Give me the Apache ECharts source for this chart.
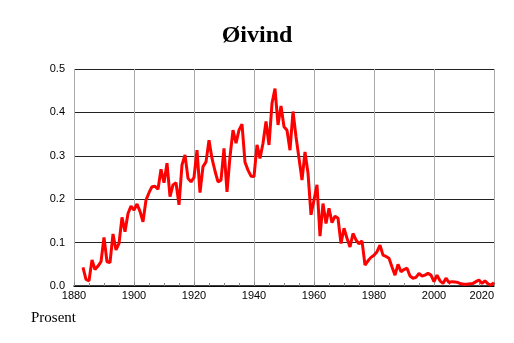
<!DOCTYPE html>
<html>
<head>
<meta charset="utf-8">
<script src="https://cdn.jsdelivr.net/npm/echarts@6/dist/echarts.min.js"></script>
<style>
  html, body { margin: 0; padding: 0; background: #fff; }
  #chart { width: 514px; height: 343px; }
</style>
</head>
<body>
<div id="chart"></div>
<script>
// andel (prosent) per år, fra 1883
const firstYear = 1883
const shares = [
  0.043, 0.015, 0.012, 0.060, 0.038, 0.046, 0.056, 0.112, 0.056, 0.054,
  0.120, 0.083, 0.098, 0.158, 0.125, 0.167, 0.184, 0.175, 0.189, 0.172,
  0.148, 0.198, 0.215, 0.229, 0.230, 0.223, 0.269, 0.238, 0.283, 0.206,
  0.233, 0.238, 0.187, 0.279, 0.302, 0.248, 0.240, 0.250, 0.313, 0.215,
  0.275, 0.286, 0.336, 0.294, 0.265, 0.240, 0.244, 0.317, 0.217, 0.298,
  0.359, 0.329, 0.359, 0.373, 0.285, 0.267, 0.253, 0.252, 0.325, 0.294,
  0.329, 0.379, 0.325, 0.421, 0.455, 0.371, 0.415, 0.367, 0.359, 0.313,
  0.402, 0.344, 0.294, 0.244, 0.309, 0.260, 0.164, 0.198, 0.233, 0.115,
  0.190, 0.144, 0.179, 0.146, 0.161, 0.156, 0.098, 0.133, 0.110, 0.090,
  0.121, 0.106, 0.097, 0.104, 0.048, 0.058, 0.066, 0.071, 0.079, 0.094,
  0.071, 0.068, 0.064, 0.044, 0.025, 0.050, 0.033, 0.038, 0.041, 0.023,
  0.018, 0.020, 0.029, 0.023, 0.025, 0.029, 0.025, 0.010, 0.025, 0.012,
  0.006, 0.018, 0.008, 0.010, 0.009, 0.008, 0.005, 0.004, 0.004, 0.005,
  0.006, 0.010, 0.014, 0.006, 0.012, 0.005, 0.002, 0.008
]
const years = shares.map((_, i) => firstYear + i)
const xTicks = [1880, 1900, 1920, 1940, 1960, 1980, 2000, 2020]
const yTicks = [0.0, 0.1, 0.2, 0.3, 0.4, 0.5]

const myChart = echarts.init(document.getElementById('chart'))

let option = {
  animation: false,
  backgroundColor: '#fff',
  title: {
    text: 'Øivind',
    left: 'center',
    top: 19,
    textStyle: {
      fontFamily: 'Liberation Serif',
      fontWeight: 'bold',
      fontSize: 24,
      color: '#000',
    },
  },
  graphic: [{
    type: 'text',
    left: 31,
    top: 311,
    style: {
      text: 'Prosent',
      font: '15px "Liberation Serif"',
      fill: '#000',
    },
  }],
  grid: {
    left: 74,
    top: 69,
    width: 420,
    height: 217,
    containLabel: false,
  },
  xAxis: {
    type: 'value',
    min: xTicks[0],
    max: xTicks[xTicks.length - 1],
    interval: 20,
    axisLine: { show: true, lineStyle: { color: '#000', width: 1.5 } },
    axisTick: { show: true, inside: true, length: 4, lineStyle: { color: '#888' } },
    minorTick: { show: true, splitNumber: 4, length: 3, lineStyle: { color: '#888' } },
    splitLine: { show: true, lineStyle: { color: '#aaa', width: 1 } },
    axisLabel: {
      color: '#000',
      fontFamily: 'Liberation Sans',
      fontSize: 11,
      margin: 4,
      alignMaxLabel: 'right',
      formatter: v => String(v),
    },
  },
  yAxis: {
    type: 'value',
    min: yTicks[0],
    max: yTicks[yTicks.length - 1],
    interval: 0.1,
    axisLine: { show: false },
    axisTick: { show: false },
    splitLine: { show: true, lineStyle: { color: '#222', width: 1 } },
    axisLabel: {
      color: '#000',
      fontFamily: 'Liberation Sans',
      fontSize: 11,
      margin: 9,
      formatter: v => v.toFixed(1),
    },
  },
  series: [{
    type: 'line',
    data: years.map((y, i) => [y, shares[i]]),
    showSymbol: false,
    lineStyle: { color: '#ff0000', width: 3 },
    itemStyle: { color: '#ff0000' },
    z: 5,
  }],
}
option && myChart.setOption(option)
</script>
</body>
</html>
